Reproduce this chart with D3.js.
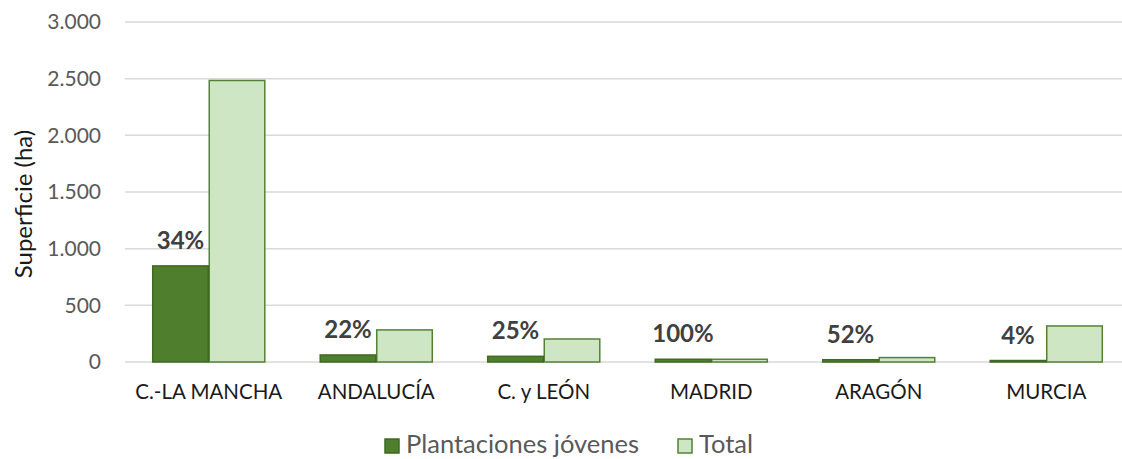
<!DOCTYPE html>
<html>
<head>
<meta charset="utf-8">
<script src="https://cdn.jsdelivr.net/npm/d3@7"></script>
<style>
  html, body { margin: 0; padding: 0; background: #fff; }
  svg { display: block; }
  text { font-family: "Lato", "Open Sans", sans-serif; }
</style>
</head>
<body>
<svg id="chart" width="1122" height="459"></svg>
<script>
// Regions and surfaces (ha)
const categories = ["C.-LA MANCHA", "ANDALUCÍA", "C. y LEÓN", "MADRID", "ARAGÓN", "MURCIA"];
const youngPlantations = [848, 62, 50, 24, 20, 13];
const totalArea = [2484, 283, 203, 24, 39, 318];
const shareLabels = ["34%", "22%", "25%", "100%", "52%", "4%"];
const yTicks = [0, 500, 1000, 1500, 2000, 2500, 3000];
const seriesNames = ["Plantaciones jóvenes", "Total"];

const svg = d3.select("#chart");
const plot = { left: 125, right: 1130, top: 22, bottom: 362 };

const x = d3.scaleBand().domain(categories).range([plot.left, plot.right]).paddingInner(0.325).paddingOuter(0.1625);
const sub = d3.scaleBand().domain(seriesNames).range([0, x.bandwidth()]);
const y = d3.scaleLinear().domain([0, 3000]).range([plot.bottom, plot.top]);

const fmt = v => d3.format(",")(v).replace(/,/g, ".");

// horizontal gridlines
svg.append("g").selectAll("line").data(yTicks).join("line")
  .attr("x1", plot.left).attr("x2", plot.right)
  .attr("y1", d => y(d)).attr("y2", d => y(d))
  .attr("stroke", "#d9d9d9").attr("stroke-width", 1.5);

// y axis labels
const yAxis = d3.axisLeft(y).tickValues(yTicks).tickFormat(fmt).tickSize(0).tickPadding(0);
const ya = svg.append("g").attr("transform", `translate(${plot.left - 24},0)`).call(yAxis);
ya.select(".domain").remove();
ya.selectAll("text").attr("font-size", 21).attr("fill", "#595959").attr("font-family", "Lato, sans-serif");

// axis title
svg.append("text")
  .attr("transform", `translate(32,${(plot.top + plot.bottom) / 2 + 12}) rotate(-90)`)
  .attr("text-anchor", "middle").attr("font-size", 24).attr("fill", "#1a1a1a")
  .text("Superficie (ha)");

// x axis labels
const xAxis = d3.axisBottom(x).tickSize(0).tickPadding(0);
const xa = svg.append("g").attr("transform", `translate(0,${plot.bottom + 37})`).call(xAxis);
xa.select(".domain").remove();
xa.selectAll("text").attr("font-size", 20.5).attr("fill", "#1a1a1a").attr("font-family", "Lato, sans-serif").attr("dy", 0);

// bars
const rows = categories.map((c, i) => ({ c, i, young: youngPlantations[i], total: totalArea[i], label: shareLabels[i] }));
const groups = svg.append("g").selectAll("g").data(rows).join("g")
  .attr("transform", d => `translate(${x(d.c)},0)`);

groups.append("rect")
  .attr("x", sub(seriesNames[1]) + 0.5).attr("width", sub.bandwidth() - 1)
  .attr("y", d => y(d.total)).attr("height", d => y(0) - y(d.total))
  .attr("fill", "#cfe6c4").attr("stroke", "#548235").attr("stroke-width", 1.5);

groups.append("rect")
  .attr("x", sub(seriesNames[0]) + 0.5).attr("width", sub.bandwidth() - 1)
  .attr("y", d => y(d.young)).attr("height", d => y(0) - y(d.young))
  .attr("fill", "#4f7f2c").attr("stroke", "#3e6a23").attr("stroke-width", 1.5);

// share labels above the young-plantation bars
groups.append("text")
  .attr("x", sub(seriesNames[0]) + sub.bandwidth() / 2)
  .attr("y", d => y(d.young) - 17)
  .attr("text-anchor", "middle").attr("font-size", 24).attr("font-weight", "bold")
  .attr("fill", "#404040").text(d => d.label);

// legend
const legend = svg.append("g");
const legendItems = [
  { name: seriesNames[0], fill: "#4f7f2c", stroke: "#3e6a23", x: 385 },
  { name: seriesNames[1], fill: "#cfe6c4", stroke: "#548235", x: 678 }
];
legendItems.forEach(it => {
  legend.append("rect").attr("x", it.x).attr("y", 439).attr("width", 14).attr("height", 14)
    .attr("fill", it.fill).attr("stroke", it.stroke).attr("stroke-width", 1.5);
  legend.append("text").attr("x", it.x + 21).attr("y", 453)
    .attr("font-size", 25.5).attr("fill", "#595959").text(it.name);
});
</script>
</body>
</html>
